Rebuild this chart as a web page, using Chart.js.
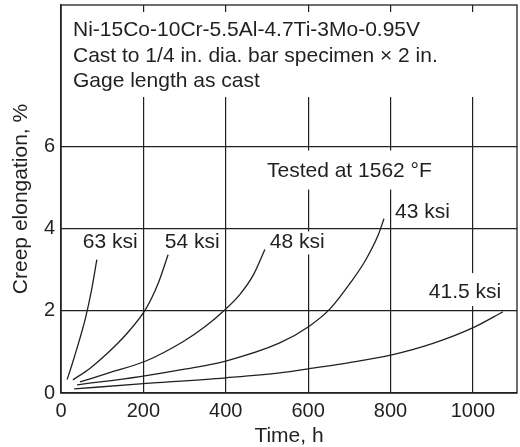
<!DOCTYPE html>
<html>
<head>
<meta charset="utf-8">
<script src="https://cdn.jsdelivr.net/npm/chart.js@4.4.0/dist/chart.umd.min.js"></script>
<style>
  html, body { margin: 0; padding: 0; background: #fff; }
  #wrap { width: 520px; height: 447px; }
</style>
</head>
<body>
<div id="wrap"><canvas id="chart" width="520" height="447"></canvas></div>
<script>
// creep curves (time in h, elongation in %)
const stressLabels = ['63 ksi', '54 ksi', '48 ksi', '43 ksi', '41.5 ksi'];

const hours63 = [15, 30, 45, 60, 74, 87];
const elong63 = [0.33, 0.8, 1.3, 1.85, 2.5, 3.25];

const hours54 = [29, 70, 114, 160, 206, 235, 260];
const elong54 = [0.32, 0.6, 0.98, 1.45, 2.05, 2.65, 3.37];

const hours48 = [46, 120, 206, 296, 350, 400, 434, 467, 495];
const elong48 = [0.27, 0.5, 0.78, 1.25, 1.62, 2.05, 2.4, 2.88, 3.5];

const hours43 = [39, 192, 300, 400, 531, 600, 653, 705, 740, 770, 784];
const elong43 = [0.2, 0.4, 0.58, 0.78, 1.22, 1.61, 2.05, 2.72, 3.25, 3.85, 4.25];

const hours415 = [32, 192, 400, 531, 600, 700, 803, 903, 1002, 1073];
const elong415 = [0.1, 0.22, 0.37, 0.49, 0.59, 0.74, 0.93, 1.21, 1.6, 1.98];

const xTicks = [0, 200, 400, 600, 800, 1000];
const yTicks = [0, 2, 4, 6];

const INK = '#231f20';
const FONT_FAMILY = '"Liberation Sans", Arial, Helvetica, sans-serif';

const curves = [
  [hours63, elong63],
  [hours54, elong54],
  [hours48, elong48],
  [hours43, elong43],
  [hours415, elong415]
];

// text in the plot (x, y in data units, up/down = white box extent in px)
const notes = [
  { text: '63 ksi', x: 53, y: 3.67, up: 11, down: 10 },
  { text: '54 ksi', x: 252, y: 3.67, up: 11, down: 10 },
  { text: '48 ksi', x: 507, y: 3.67, up: 11, down: 12 },
  { text: '43 ksi', x: 811, y: 4.4, up: 10, down: 10 },
  { text: '41.5 ksi', x: 893, y: 2.46, up: 19, down: 14 },
  { text: 'Tested at 1562 \u00b0F', x: 500, y: 5.4, up: 21, down: 18 }
];
const headLines = [
  'Ni-15Co-10Cr-5.5Al-4.7Ti-3Mo-0.95V',
  'Cast to 1/4 in. dia. bar specimen \u00d7 2 in.',
  'Gage length as cast'
];

const notePlugin = {
  id: 'notes',
  beforeDatasetsDraw(chart) {
    const { ctx, chartArea: a, scales: { x, y } } = chart;
    ctx.save();
    ctx.font = '21px ' + FONT_FAMILY;

    // header block hides the grid lines under it
    ctx.fillStyle = '#fff';
    ctx.fillRect(a.left + 1, a.top + 7, a.width - 2, 85);
    ctx.fillStyle = INK;
    ctx.textBaseline = 'alphabetic';
    headLines.forEach((s, i) => ctx.fillText(s, a.left + 12, a.top + 31 + i * 25.5));

    ctx.textBaseline = 'middle';
    notes.forEach(n => {
      const px = x.getPixelForValue(n.x);
      const py = y.getPixelForValue(n.y);
      const w = ctx.measureText(n.text).width;
      ctx.fillStyle = '#fff';
      ctx.fillRect(px - 2, py - n.up, w + 4, n.up + n.down);
      ctx.fillStyle = INK;
      ctx.fillText(n.text, px, py);
    });
    ctx.restore();
  },
  afterDatasetsDraw(chart) {
    const { ctx, chartArea: a } = chart;
    ctx.save();
    ctx.strokeStyle = INK;
    ctx.lineWidth = 1.3;
    ctx.strokeRect(a.left, a.top, a.width, a.height);
    ctx.restore();
  }
};

const datasets = curves.map(([hrs, el], i) => ({
  label: stressLabels[i],
  data: hrs.map((h, k) => ({ x: h, y: el[k] })),
  showLine: true,
  borderColor: INK,
  borderWidth: 1.3,
  pointRadius: 0,
  cubicInterpolationMode: 'monotone',
  fill: false
}));

new Chart(document.getElementById('chart'), {
  type: 'scatter',
  data: { datasets },
  options: {
    responsive: false,
    animation: false,
    layout: { padding: { top: 5, right: 3, left: 0, bottom: 0 } },
    plugins: { legend: { display: false }, tooltip: { enabled: false } },
    scales: {
      x: {
        type: 'linear',
        min: 0,
        max: 1107,
        afterBuildTicks: s => { s.ticks = xTicks.map(v => ({ value: v })); },
        afterFit: s => { s.height = 54; s.paddingLeft = 0; s.paddingRight = 0; },
        grid: { color: INK, lineWidth: 1.2, drawTicks: false },
        border: { display: true, color: INK, width: 1.3 },
        ticks: {
          color: INK, font: { family: FONT_FAMILY, size: 20 }, padding: 6, maxRotation: 0,
          callback: v => String(v)
        },
        title: {
          display: true, text: 'Time, h', color: INK,
          font: { family: FONT_FAMILY, size: 21, lineHeight: 1 },
          padding: { top: 0, bottom: 0 }
        }
      },
      y: {
        type: 'linear',
        min: 0,
        max: 9.46,
        afterBuildTicks: s => { s.ticks = yTicks.map(v => ({ value: v })); },
        afterFit: s => { s.width = 61; s.paddingTop = 0; s.paddingBottom = 0; },
        grid: { color: INK, lineWidth: 1.2, drawTicks: false },
        border: { display: true, color: INK, width: 1.3 },
        ticks: {
          color: INK, font: { family: FONT_FAMILY, size: 20 }, padding: 6,
          callback: v => String(v)
        },
        title: {
          display: true, text: 'Creep elongation, %', color: INK,
          font: { family: FONT_FAMILY, size: 21, lineHeight: 1 },
          padding: { top: 11, bottom: 0 }
        }
      }
    }
  },
  plugins: [notePlugin]
});
</script>
</body>
</html>
